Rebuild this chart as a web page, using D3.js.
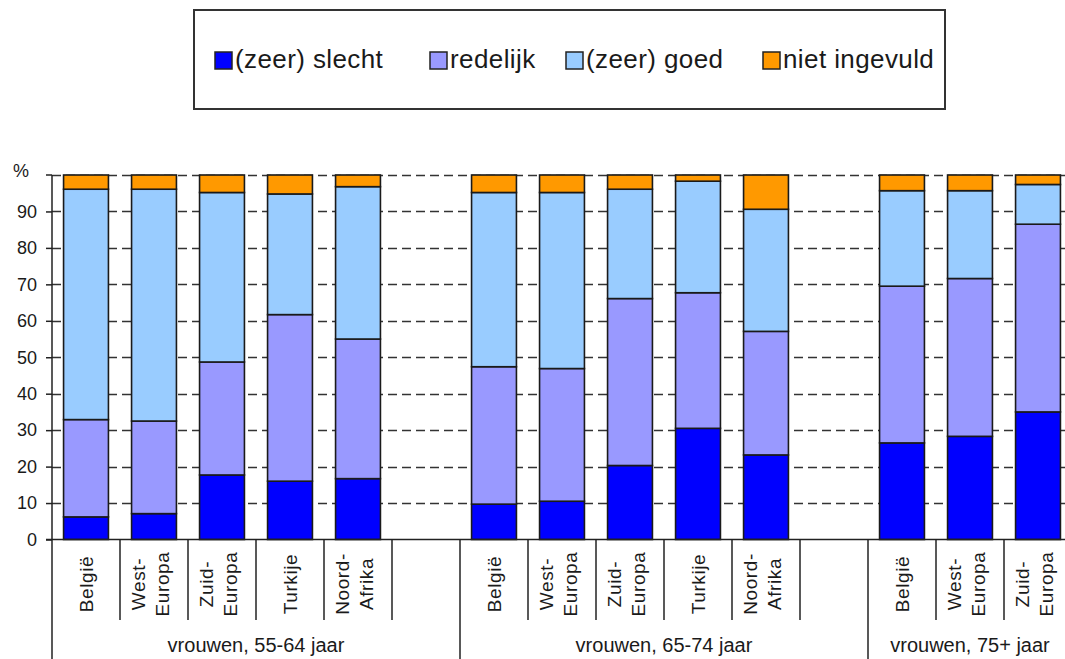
<!DOCTYPE html>
<html>
<head>
<meta charset="utf-8">
<script src="https://cdn.jsdelivr.net/npm/d3@7"></script>
<style>
	body { margin: 0; background: #fff; }
	svg { display: block; font-family: "Liberation Sans", Arial, sans-serif; fill: #1a1a1a; }
</style>
</head>
<body>
<svg id="chart" width="1065" height="659"></svg>
<script>

// groups and the countries in each group (an empty slot closes groups 1 and 2)
const GROUPS = ['vrouwen, 55-64 jaar', 'vrouwen, 65-74 jaar', 'vrouwen, 75+ jaar'];
const COUNTRIES = [
	['België', 'West-|Europa', 'Zuid-|Europa', 'Turkije', 'Noord-|Afrika'],
	['België', 'West-|Europa', 'Zuid-|Europa', 'Turkije', 'Noord-|Afrika'],
	['België', 'West-|Europa', 'Zuid-|Europa']
];
const SERIES = ['(zeer) slecht', 'redelijk', '(zeer) goed', 'niet ingevuld'];
const COLORS = ['#0000ff', '#9999ff', '#99ccff', '#ff9900'];

// percentages, in the order of the bars above
const SLECHT   = [6.2, 7.1, 17.7, 16.0, 16.7, 9.7, 10.5, 20.3, 30.5, 23.2, 26.5, 28.3, 35.0];
const REDELIJK = [26.7, 25.4, 31.0, 45.7, 38.3, 37.7, 36.4, 45.8, 37.2, 33.9, 43.0, 43.3, 51.5];
const GOED     = [63.2, 63.6, 46.5, 33.1, 41.8, 47.8, 48.3, 30.0, 30.6, 33.5, 26.2, 24.1, 10.9];
const NIET     = [3.9, 3.9, 4.8, 5.2, 3.2, 4.8, 4.8, 3.9, 1.7, 9.4, 4.3, 4.3, 2.6];
const Y_TICKS = [0, 10, 20, 30, 40, 50, 60, 70, 80, 90];

// build the slots: every country, plus a gap after the first two groups
let slots = [];
let bars = [];
let k = 0;
COUNTRIES.forEach((list, g) => {
	list.forEach((c) => {
		let key = g + ':' + c;
		slots.push(key);
		bars.push({ key: key, group: g, label: c, 0: SLECHT[k], 1: REDELIJK[k], 2: GOED[k], 3: NIET[k] });
		k++;
	});
	if (g < GROUPS.length - 1) slots.push(g + ':gap');
});

const svg = d3.select('#chart');
const plotTop = 175, plotBottom = 539.5, plotLeft = 52;

const x = d3.scaleBand()
	.domain(slots)
	.range([plotLeft, plotLeft + slots.length * 68])
	.paddingInner(0.34)
	.paddingOuter(0.17);

const y = d3.scaleLinear()
	.domain([0, 100])
	.range([plotBottom, plotTop]);

// dashed gridlines
svg.append('g')
	.selectAll('line')
	.data([10, 20, 30, 40, 50, 60, 70, 80, 90, 100])
	.enter()
	.append('line')
		.attr('x1', plotLeft)
		.attr('x2', 1065)
		.attr('y1', (d) => Math.round(y(d)) + 0.5)
		.attr('y2', (d) => Math.round(y(d)) + 0.5)
		.attr('stroke', '#333')
		.attr('stroke-width', 1.6)
		.attr('stroke-dasharray', '9,5');

// stacked bars
const stack = d3.stack().keys([0, 1, 2, 3]);
svg.append('g')
	.selectAll('g')
	.data(stack(bars))
	.enter()
	.append('g')
		.attr('fill', (d, i) => COLORS[i])
	.selectAll('rect')
	.data((d) => d)
	.enter()
	.append('rect')
		.attr('x', (d) => x(d.data.key))
		.attr('width', x.bandwidth())
		.attr('y', (d) => y(d[1]))
		.attr('height', (d) => y(d[0]) - y(d[1]))
		.attr('stroke', '#1a1a1a')
		.attr('stroke-width', 1.6);

// y axis
const yAxis = d3.axisLeft(y).tickValues(Y_TICKS).tickSize(6).tickFormat(d3.format('d'));
const ya = svg.append('g')
	.attr('transform', `translate(${plotLeft}, 0)`)
	.call(yAxis);
ya.select('.domain').remove();
ya.selectAll('line').attr('stroke', '#222').attr('stroke-width', 1.5);
ya.selectAll('text')
	.attr('x', -15)
	.attr('font-size', 18)
	.attr('font-family', '"Liberation Sans", Arial, sans-serif')
	.attr('fill', '#1a1a1a');
ya.append('line')
	.attr('x1', -6).attr('x2', 0)
	.attr('y1', y(100)).attr('y2', y(100))
	.attr('stroke', '#222').attr('stroke-width', 1.5);

svg.append('text')
	.attr('x', 13)
	.attr('y', 177)
	.attr('font-size', 18)
	.text('%');

// axis lines
svg.append('line')
	.attr('x1', plotLeft).attr('x2', plotLeft)
	.attr('y1', plotTop).attr('y2', 659)
	.attr('stroke', '#222').attr('stroke-width', 1.5);
svg.append('line')
	.attr('x1', plotLeft - 6).attr('x2', 1065)
	.attr('y1', plotBottom).attr('y2', plotBottom)
	.attr('stroke', '#222').attr('stroke-width', 1.5);

// separators under the axis: short between slots, long between groups
const step = x.step();
let groupStarts = [0];
slots.forEach((s, i) => {
	if (i > 0 && slots[i - 1].endsWith(':gap')) groupStarts.push(i);
});
const seps = d3.range(1, slots.length + 1);
svg.append('g')
	.selectAll('line')
	.data(seps)
	.enter()
	.append('line')
		.attr('x1', (i) => plotLeft + i * step)
		.attr('x2', (i) => plotLeft + i * step)
		.attr('y1', plotBottom)
		.attr('y2', (i) => groupStarts.includes(i) ? 659 : 620)
		.attr('stroke', '#222')
		.attr('stroke-width', 1.5);

// rotated country labels
const labels = svg.append('g')
	.selectAll('text')
	.data(bars)
	.enter()
	.append('text')
		.attr('font-size', 19)
		.attr('letter-spacing', 0.6)
		.attr('text-anchor', 'middle')
		.attr('transform', (d) => {
			let cx = x(d.key) + x.bandwidth() / 2;
			let lines = d.label.split('|').length;
			let bx = lines == 1 ? cx + 7 : cx - 9;
			return `translate(${bx}, 584) rotate(-90)`;
		});
labels.selectAll('tspan')
	.data((d) => d.label.split('|'))
	.enter()
	.append('tspan')
		.attr('x', 0)
		.attr('dy', (d, i) => i == 0 ? 0 : 24)
		.text((d) => d);

// group labels
svg.append('g')
	.selectAll('text')
	.data(GROUPS)
	.enter()
	.append('text')
		.attr('font-size', 20)
		.attr('text-anchor', 'middle')
		.attr('x', (d, g) => {
			let a = plotLeft + groupStarts[g] * step;
			let b = g + 1 < groupStarts.length ? plotLeft + groupStarts[g + 1] * step : plotLeft + slots.length * step;
			return (a + b) / 2;
		})
		.attr('y', 652)
		.text((d) => d);

// legend
svg.append('rect')
	.attr('x', 194).attr('y', 10)
	.attr('width', 751).attr('height', 99)
	.attr('fill', '#fff')
	.attr('stroke', '#333')
	.attr('stroke-width', 2);

const LEGEND_X = [215, 430, 566, 763];
const leg = svg.append('g')
	.selectAll('g')
	.data(SERIES)
	.enter()
	.append('g')
		.attr('transform', (d, i) => `translate(${LEGEND_X[i]}, 52)`);
leg.append('rect')
	.attr('width', 17).attr('height', 17)
	.attr('fill', (d, i) => COLORS[i])
	.attr('stroke', '#222')
	.attr('stroke-width', 1.5);
leg.append('text')
	.attr('x', 20)
	.attr('y', 16)
	.attr('font-size', 26)
	.attr('letter-spacing', 0.4)
	.text((d) => d);

</script>
</body>
</html>
